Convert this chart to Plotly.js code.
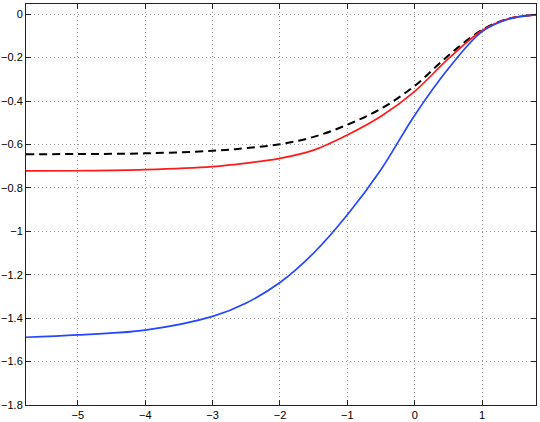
<!DOCTYPE html>
<html>
<head>
<meta charset="utf-8">
<script src="https://cdn.plot.ly/plotly-3.0.1.min.js"></script>
<style>
  body { margin: 0; padding: 0; background: #fff; }
  #plot { width: 540px; height: 422px; }
</style>
</head>
<body>
<div id="plot"></div>
<script>
// values
var xs = [-5.77, -5, -4, -3, -2.5, -2, -1.5, -1, -0.5, 0, 0.5, 1, 1.4, 1.8];

var dashedY = [-0.645, -0.644, -0.641, -0.629, -0.617, -0.599, -0.565, -0.509, -0.435, -0.33, -0.19, -0.072, -0.02, -0.003];
var redY    = [-0.722, -0.721, -0.716, -0.702, -0.686, -0.664, -0.626, -0.556, -0.47, -0.355, -0.205, -0.075, -0.02, -0.003];
var blueY   = [-1.488, -1.477, -1.455, -1.392, -1.33, -1.236, -1.10, -0.924, -0.715, -0.465, -0.25, -0.08, -0.022, -0.003];

var black = {
    x: xs,
    y: dashedY,
    mode: "lines",
    line: {color: "#000000", width: 2, dash: "8px,5px", shape: "spline"}
};

var red = {
    x: xs,
    y: redY,
    mode: "lines",
    line: {color: "#ff1a1a", width: 1.7, shape: "spline"}
};

var blue = {
    x: xs,
    y: blueY,
    mode: "lines",
    line: {color: "#2645ff", width: 1.7, shape: "spline"}
};

var data = [black, red, blue];

var axisStyle = {
    showgrid: true,
    gridcolor: "#9a9a9a",
    griddash: "1px,3px",
    gridwidth: 1,
    zeroline: false,
    showline: true,
    linecolor: "#222",
    linewidth: 1,
    mirror: "ticks",
    ticks: "inside",
    ticklen: 5,
    tickcolor: "#222",
    tickfont: {family: "Liberation Sans, Arial, sans-serif", size: 11, color: "#000"}
};

var layout = {
    width: 540,
    height: 422,
    showlegend: false,
    paper_bgcolor: "#ffffff",
    plot_bgcolor: "#ffffff",
    xaxis: Object.assign({}, axisStyle, {range: [-5.77, 1.8], dtick: 1, tick0: 0}),
    yaxis: Object.assign({}, axisStyle, {range: [-1.8, 0.047], dtick: 0.2, tick0: 0}),
    margin: {
        t: 4,  //top margin
        l: 26, //left margin
        r: 4,  //right margin
        b: 17  //bottom margin
    }
};

Plotly.newPlot("plot", data, layout, {staticPlot: true});
</script>
</body>
</html>
